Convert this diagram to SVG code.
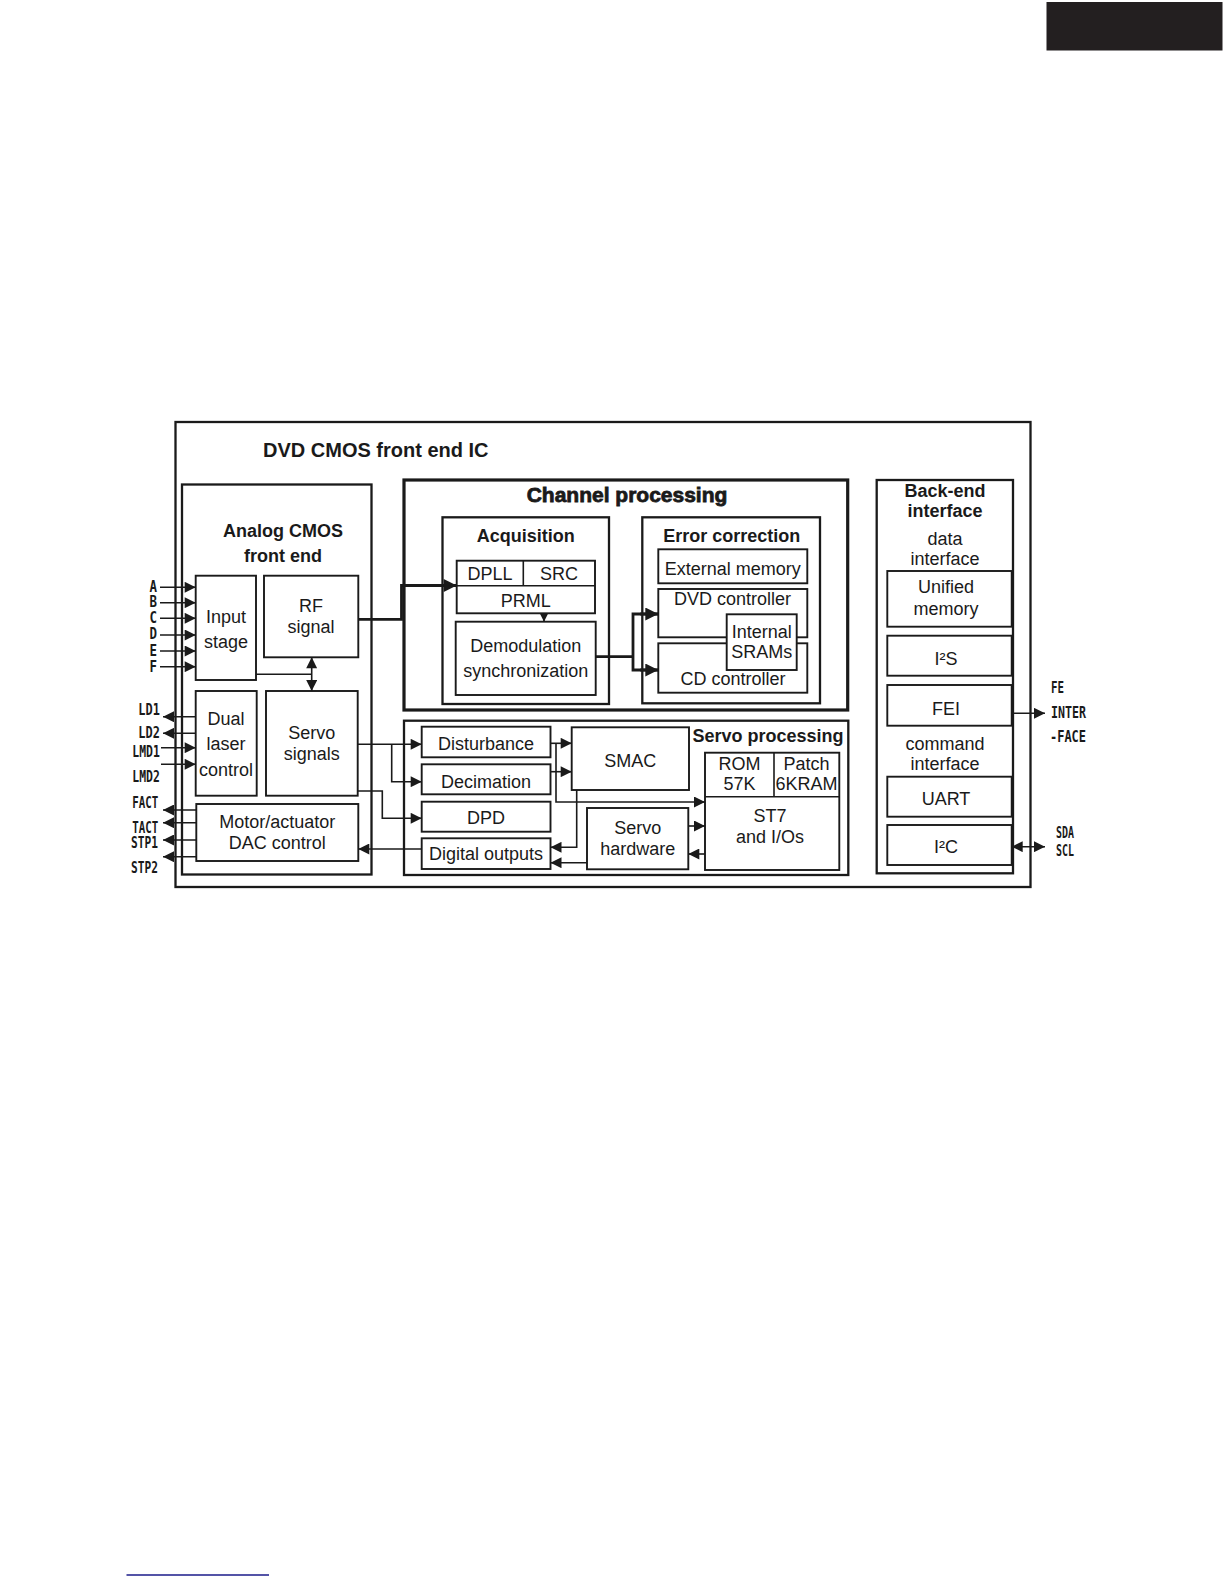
<svg xmlns="http://www.w3.org/2000/svg" width="1224" height="1584" viewBox="0 0 1224 1584">
<style>
.bx{fill:#fff;stroke:#1a1a1a;stroke-width:1.9}
.bx2{fill:none;stroke:#1a1a1a;stroke-width:2.3}
.bx3{fill:none;stroke:#1a1a1a;stroke-width:3.2}
.ln{fill:none;stroke:#1a1a1a;stroke-width:1.6}
.lnt{fill:none;stroke:#1a1a1a;stroke-width:2.8}
text{font-family:"Liberation Sans",Arial,sans-serif;fill:#1a1a1a}
.t{font-size:18px;text-anchor:middle}
.tb{font-size:18px;font-weight:bold;text-anchor:middle}
.th{font-size:20px;font-weight:bold}
.pin{font-family:"DejaVu Sans Mono","Liberation Mono",monospace;font-size:15px;font-weight:bold}
.pe{text-anchor:end}
</style>
<defs>
<marker id="ar" viewBox="0 0 10 10" refX="10" refY="5" markerWidth="12" markerHeight="11" markerUnits="userSpaceOnUse" orient="auto-start-reverse"><path d="M0,0 L10,5 L0,10 z" fill="#1a1a1a"/></marker>
<marker id="arb" viewBox="0 0 10 10" refX="10" refY="5" markerWidth="14" markerHeight="13" markerUnits="userSpaceOnUse" orient="auto-start-reverse"><path d="M0,0 L10,5 L0,10 z" fill="#1a1a1a"/></marker>
<marker id="ars" viewBox="0 0 10 10" refX="10" refY="5" markerWidth="8" markerHeight="9" markerUnits="userSpaceOnUse" orient="auto"><path d="M0,0 L10,5 L0,10 z" fill="#1a1a1a"/></marker>
</defs>

<rect x="1046.5" y="2" width="176" height="48.5" fill="#231f20"/>
<line x1="126.5" y1="1575" x2="269" y2="1575" stroke="#1b1b8a" stroke-width="1.6"/>

<g id="ic">
<rect class="bx2" x="175.5" y="422" width="855" height="465"/>
<text class="th" x="263" y="457">DVD CMOS front end IC</text>
</g>

<g id="analog">
<rect class="bx2" x="182" y="484.5" width="189.5" height="390"/>
<text class="tb" x="283" y="536.5">Analog CMOS</text>
<text class="tb" x="283" y="562">front end</text>
</g>
<g id="input-stage">
<rect class="bx" x="195.7" y="575.7" width="60.3" height="104.3"/>
<text class="t" x="226" y="623">Input</text>
<text class="t" x="226" y="648">stage</text>
</g>
<g id="rf-signal">
<rect class="bx" x="264" y="575.7" width="94.3" height="81.6"/>
<text class="t" x="311" y="611.7">RF</text>
<text class="t" x="311" y="633.3">signal</text>
</g>
<g id="dual-laser">
<rect class="bx" x="195.7" y="691" width="61" height="104.7"/>
<text class="t" x="226" y="725">Dual</text>
<text class="t" x="226" y="750">laser</text>
<text class="t" x="226" y="776">control</text>
</g>
<g id="servo-signals">
<rect class="bx" x="266" y="691" width="91.7" height="104.7"/>
<text class="t" x="311.8" y="739.3">Servo</text>
<text class="t" x="311.8" y="760">signals</text>
</g>
<g id="motor-dac">
<rect class="bx" x="196.3" y="804" width="162" height="57"/>
<text class="t" x="277.3" y="828.3">Motor/actuator</text>
<text class="t" x="277.3" y="849">DAC control</text>
</g>

<g id="channel">
<rect class="bx3" x="404" y="480" width="443.7" height="230"/>
<text class="th" x="627" y="501.7" text-anchor="middle" stroke="#1a1a1a" stroke-width="0.8" style="font-size:21px">Channel processing</text>
</g>
<g id="acquisition">
<rect class="bx2" x="442.5" y="517.3" width="166.5" height="186.7"/>
<text class="tb" x="525.7" y="542.3">Acquisition</text>
</g>
<g id="dpll-src-prml">
<rect class="bx" x="456.7" y="560.7" width="138.3" height="52.6"/>
<line class="ln" x1="456.7" y1="585.7" x2="595" y2="585.7"/>
<line class="ln" x1="523.3" y1="560.7" x2="523.3" y2="585.7"/>
<text class="t" x="490" y="580">DPLL</text>
<text class="t" x="559" y="580">SRC</text>
<text class="t" x="525.8" y="606.7">PRML</text>
</g>
<g id="demod">
<rect class="bx" x="455.7" y="621.7" width="140" height="73.3"/>
<text class="t" x="525.7" y="651.7">Demodulation</text>
<text class="t" x="525.7" y="676.7">synchronization</text>
</g>
<g id="error-correction">
<rect class="bx2" x="642.3" y="517.3" width="177.7" height="186"/>
<text class="tb" x="731.7" y="541.7">Error correction</text>
</g>
<g id="external-memory">
<rect class="bx" x="658.3" y="549.3" width="149" height="34"/>
<text class="t" x="732.8" y="575">External memory</text>
</g>
<g id="dvd-controller">
<rect class="bx" x="658.3" y="589" width="149" height="48.3"/>
<text class="t" x="732.5" y="605">DVD controller</text>
</g>
<g id="cd-controller">
<rect class="bx" x="658.3" y="643.3" width="149" height="49.4"/>
<text class="t" x="733" y="685">CD controller</text>
</g>
<g id="internal-srams">
<rect class="bx" x="726.7" y="614.3" width="70" height="55.7"/>
<text class="t" x="761.7" y="638.3">Internal</text>
<text class="t" x="761.7" y="658.3">SRAMs</text>
</g>

<g id="servo-processing">
<rect class="bx2" x="404" y="720.7" width="444.3" height="154.3"/>
<text class="tb" x="768" y="741.7">Servo processing</text>
</g>
<g id="disturbance">
<rect class="bx" x="421.7" y="726.7" width="128.8" height="30.6"/>
<text class="t" x="486" y="750">Disturbance</text>
</g>
<g id="decimation">
<rect class="bx" x="421.7" y="764.3" width="128.8" height="30"/>
<text class="t" x="486" y="787.7">Decimation</text>
</g>
<g id="dpd">
<rect class="bx" x="421.7" y="801.7" width="128.8" height="30"/>
<text class="t" x="486" y="824.3">DPD</text>
</g>
<g id="digital-outputs">
<rect class="bx" x="421.7" y="838.3" width="128.8" height="30.7"/>
<text class="t" x="486" y="860">Digital outputs</text>
</g>
<g id="smac">
<rect class="bx" x="571.7" y="727.3" width="117.3" height="62.7"/>
<text class="t" x="630.3" y="766.7">SMAC</text>
</g>
<g id="servo-hardware">
<rect class="bx" x="587" y="808" width="101.3" height="61.3"/>
<text class="t" x="637.7" y="834.3">Servo</text>
<text class="t" x="637.7" y="855">hardware</text>
</g>
<g id="st7">
<rect class="bx" x="705" y="752.7" width="134.3" height="117.3"/>
<line class="ln" x1="705" y1="796.7" x2="839.3" y2="796.7"/>
<line class="ln" x1="774" y1="752.7" x2="774" y2="796.7"/>
<text class="t" x="739.5" y="770">ROM</text>
<text class="t" x="739.5" y="790">57K</text>
<text class="t" x="806.6" y="770">Patch</text>
<text class="t" x="806.6" y="790">6KRAM</text>
<text class="t" x="770" y="821.7">ST7</text>
<text class="t" x="770" y="843.3">and I/Os</text>
</g>

<g id="back-end">
<rect class="bx2" x="876.7" y="480" width="136.3" height="393.3"/>
<text class="tb" x="945" y="497.3">Back-end</text>
<text class="tb" x="945" y="517.3">interface</text>
<text class="t" x="945" y="545">data</text>
<text class="t" x="945" y="565">interface</text>
<text class="t" x="945" y="750">command</text>
<text class="t" x="945" y="770">interface</text>
</g>
<g id="unified-memory">
<rect class="bx" x="887.3" y="571" width="124.4" height="55.7"/>
<text class="t" x="946" y="593.3">Unified</text>
<text class="t" x="946" y="615">memory</text>
</g>
<g id="i2s">
<rect class="bx" x="887.3" y="635.7" width="124.4" height="40"/>
<text class="t" x="946" y="665">I²S</text>
</g>
<g id="fei">
<rect class="bx" x="887.3" y="685" width="124.4" height="40.7"/>
<text class="t" x="946" y="715">FEI</text>
</g>
<g id="uart">
<rect class="bx" x="887.3" y="776.7" width="124.4" height="40"/>
<text class="t" x="946" y="805">UART</text>
</g>
<g id="i2c">
<rect class="bx" x="887.3" y="825" width="124.4" height="40"/>
<text class="t" x="946" y="853.3">I²C</text>
</g>

<g id="pins">
<text class="pin pe" x="157" y="591.7" textLength="7.5" lengthAdjust="spacingAndGlyphs">A</text>
<text class="pin pe" x="157" y="607" textLength="7.5" lengthAdjust="spacingAndGlyphs">B</text>
<text class="pin pe" x="157" y="623" textLength="7.5" lengthAdjust="spacingAndGlyphs">C</text>
<text class="pin pe" x="157" y="639" textLength="7.5" lengthAdjust="spacingAndGlyphs">D</text>
<text class="pin pe" x="157" y="656" textLength="7.5" lengthAdjust="spacingAndGlyphs">E</text>
<text class="pin pe" x="157" y="671.7" textLength="7.5" lengthAdjust="spacingAndGlyphs">F</text>
<text class="pin" x="138.3" y="715" textLength="21.5" lengthAdjust="spacingAndGlyphs">LD1</text>
<text class="pin" x="138.3" y="738.3" textLength="21.5" lengthAdjust="spacingAndGlyphs">LD2</text>
<text class="pin" x="132.3" y="756.7" textLength="27.5" lengthAdjust="spacingAndGlyphs">LMD1</text>
<text class="pin" x="132.3" y="781.5" textLength="27.5" lengthAdjust="spacingAndGlyphs">LMD2</text>
<text class="pin" x="132.3" y="807.7" textLength="26" lengthAdjust="spacingAndGlyphs">FACT</text>
<text class="pin" x="132.3" y="833.3" textLength="26" lengthAdjust="spacingAndGlyphs">TACT</text>
<text class="pin" x="131" y="848.3" textLength="27" lengthAdjust="spacingAndGlyphs">STP1</text>
<text class="pin" x="131" y="873.3" textLength="27" lengthAdjust="spacingAndGlyphs">STP2</text>
<text class="pin" x="1051" y="692.7" textLength="13" lengthAdjust="spacingAndGlyphs">FE</text>
<text class="pin" x="1051" y="718.3" textLength="35" lengthAdjust="spacingAndGlyphs">INTER</text>
<text class="pin" x="1050" y="741.7" textLength="36" lengthAdjust="spacingAndGlyphs">-FACE</text>
<text class="pin" x="1056" y="838.3" textLength="18" lengthAdjust="spacingAndGlyphs">SDA</text>
<text class="pin" x="1056" y="856" textLength="18" lengthAdjust="spacingAndGlyphs">SCL</text>
</g>

<g id="connectors">
<line class="ln" x1="160" y1="587.3" x2="195.7" y2="587.3" marker-end="url(#ar)"/>
<line class="ln" x1="160" y1="602.7" x2="195.7" y2="602.7" marker-end="url(#ar)"/>
<line class="ln" x1="160" y1="618.3" x2="195.7" y2="618.3" marker-end="url(#ar)"/>
<line class="ln" x1="160" y1="635" x2="195.7" y2="635" marker-end="url(#ar)"/>
<line class="ln" x1="160" y1="651" x2="195.7" y2="651" marker-end="url(#ar)"/>
<line class="ln" x1="160" y1="666.7" x2="195.7" y2="666.7" marker-end="url(#ar)"/>
<line class="ln" x1="195.7" y1="716.7" x2="163" y2="716.7" marker-end="url(#ar)"/>
<line class="ln" x1="195.7" y1="733.3" x2="163" y2="733.3" marker-end="url(#ar)"/>
<line class="ln" x1="161" y1="747.7" x2="195.7" y2="747.7" marker-end="url(#ar)"/>
<line class="ln" x1="161" y1="764.3" x2="195.7" y2="764.3" marker-end="url(#ar)"/>
<line class="ln" x1="196.3" y1="810" x2="163" y2="810" marker-end="url(#ar)"/>
<line class="ln" x1="196.3" y1="822.7" x2="163" y2="822.7" marker-end="url(#ar)"/>
<line class="ln" x1="196.3" y1="840" x2="163" y2="840" marker-end="url(#ar)"/>
<line class="ln" x1="196.3" y1="856.7" x2="163" y2="856.7" marker-end="url(#ar)"/>
<line class="ln" x1="256" y1="674.3" x2="311.7" y2="674.3"/>
<line class="ln" x1="311.7" y1="657.3" x2="311.7" y2="691" marker-start="url(#ar)" marker-end="url(#ar)"/>
<polyline class="lnt" points="358.3,619.3 401.5,619.3 401.5,585.5 456.7,585.5" marker-end="url(#arb)"/>
<line class="ln" x1="544" y1="613.3" x2="544" y2="621.7" marker-end="url(#ars)"/>
<polyline class="lnt" points="595.7,656.7 633,656.7"/>
<polyline class="lnt" points="658.3,614 633,614 633,670 658.3,670"/>
<line class="lnt" x1="640" y1="614" x2="658.3" y2="614" marker-end="url(#arb)"/>
<line class="lnt" x1="640" y1="670" x2="658.3" y2="670" marker-end="url(#arb)"/>
<line class="ln" x1="357.7" y1="744.3" x2="421.7" y2="744.3" marker-end="url(#ar)"/>
<polyline class="ln" points="391.7,744.3 391.7,781.7 421.7,781.7" marker-end="url(#ar)"/>
<polyline class="ln" points="357.7,791 382.3,791 382.3,818.3 421.7,818.3" marker-end="url(#ar)"/>
<line class="ln" x1="421.7" y1="849" x2="358.3" y2="849" marker-end="url(#ar)"/>
<line class="ln" x1="550.5" y1="743.3" x2="571.7" y2="743.3" marker-end="url(#ar)"/>
<line class="ln" x1="550.5" y1="771.7" x2="571.7" y2="771.7" marker-end="url(#ar)"/>
<polyline class="ln" points="556,743.3 556,802 705,802" marker-end="url(#ar)"/>
<polyline class="ln" points="576.7,790 576.7,847.3 550.5,847.3" marker-end="url(#ar)"/>
<line class="ln" x1="587" y1="862.7" x2="550.5" y2="862.7" marker-end="url(#ar)"/>
<line class="ln" x1="688.3" y1="826" x2="705" y2="826" marker-end="url(#ar)"/>
<line class="ln" x1="705" y1="854" x2="688.3" y2="854" marker-end="url(#ar)"/>
<line class="ln" x1="1011.7" y1="713.3" x2="1045" y2="713.3" marker-end="url(#ar)"/>
<line class="ln" x1="1011.7" y1="846.7" x2="1045" y2="846.7" marker-start="url(#ar)" marker-end="url(#ar)"/>
</g>
</svg>
